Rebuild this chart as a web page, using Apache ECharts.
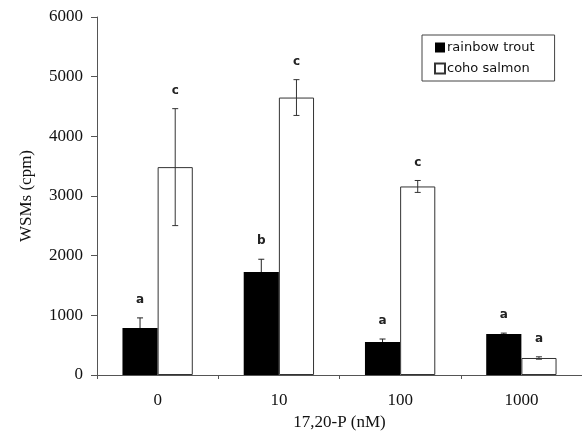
<!DOCTYPE html>
<html>
<head>
    <meta charset="UTF-8">
    <title>WSMs vs 17,20-P</title>
    <script src="https://cdn.jsdelivr.net/npm/echarts/dist/echarts.min.js"></script>
</head>
<body style="margin:0;background:#fff;">
    <div id="chart" style="width:582px;height:436px;"></div>
    <script type="text/javascript">
        var chart = echarts.init(document.getElementById('chart'));

        // data
        var doses = ['0', '10', '100', '1000'];
        var troutMeans = [787, 1725, 553, 687];
        var troutErr = [170, 215, 50, 15];
        var troutLetters = ['a', 'b', 'a', 'a'];
        var cohoMeans = [3484, 4650, 3160, 285];
        var cohoErr = [980, 300, 100, 20];
        var cohoLetters = ['c', 'c', 'c', 'a'];

        var serif = 'Liberation Serif';
        var sans = 'DejaVu Sans';
        var barFrac = 0.29;

        // rows: [index, mean, low, high, letter]
        function errRows(means, errs, letters, bothWays) {
            return means.map(function (m, i) {
                return [i, m, bothWays ? m - errs[i] : m, m + errs[i], letters[i]];
            });
        }

        function errorRenderer(side, color) {
            return function (params, api) {
                var idx = api.value(0);
                var band = api.size([1, 0])[0];
                var x = api.coord([idx, 0])[0] + side * band * barFrac / 2;
                var yLow = api.coord([idx, api.value(2)])[1];
                var yHigh = api.coord([idx, api.value(3)])[1];
                var style = { stroke: color, lineWidth: 1 };
                var kids = [
                    { type: 'line', shape: { x1: x, y1: yLow, x2: x, y2: yHigh }, style: style },
                    { type: 'line', shape: { x1: x - 3, y1: yHigh, x2: x + 3, y2: yHigh }, style: style },
                    {
                        type: 'text',
                        style: {
                            text: api.value(4), x: x, y: yHigh - 18,
                            align: 'center', verticalAlign: 'middle',
                            font: 'bold 12px "' + sans + '"', fill: '#222'
                        }
                    }
                ];
                if (api.value(2) !== api.value(1)) {
                    kids.push({ type: 'line', shape: { x1: x - 3, y1: yLow, x2: x + 3, y2: yLow }, style: style });
                }
                return { type: 'group', children: kids };
            };
        }

        var option = {
            backgroundColor: '#fff',
            animation: false,
            grid: { left: 97, top: 17, width: 485, height: 358 },
            legend: {
                data: ['rainbow trout', 'coho salmon'],
                orient: 'vertical',
                left: 422,
                top: 35,
                width: 129,
                padding: [6, 20, 6, 12],
                itemGap: 8,
                itemWidth: 10,
                itemHeight: 10,
                icon: 'rect',
                borderColor: '#444',
                borderWidth: 1,
                textStyle: { fontFamily: sans, fontSize: 13, color: '#111', padding: [0, 0, 0, -3] }
            },
            xAxis: {
                type: 'category',
                data: doses,
                name: '17,20-P (nM)',
                nameLocation: 'middle',
                nameGap: 38,
                nameTextStyle: { fontFamily: serif, fontSize: 17, color: '#111' },
                axisLine: { lineStyle: { color: '#555' } },
                axisTick: { show: true, length: 4, lineStyle: { color: '#555' } },
                axisLabel: { fontFamily: serif, fontSize: 17, color: '#111', margin: 17 },
                splitLine: { show: false }
            },
            yAxis: {
                type: 'value',
                min: 0,
                max: 6000,
                interval: 1000,
                name: 'WSMs (cpm)',
                nameLocation: 'middle',
                nameGap: 62,
                nameTextStyle: { fontFamily: serif, fontSize: 17, color: '#111' },
                axisLine: { show: true, lineStyle: { color: '#555' } },
                axisTick: { show: true, length: 6, lineStyle: { color: '#555' } },
                axisLabel: {
                    fontFamily: serif, fontSize: 17, color: '#111', margin: 14,
                    formatter: function (v) { return String(v); }
                },
                splitLine: { show: false }
            },
            series: [
                {
                    name: 'rainbow trout',
                    type: 'bar',
                    data: troutMeans,
                    barWidth: (barFrac * 100) + '%',
                    barGap: '0%',
                    itemStyle: { color: '#000' }
                },
                {
                    name: 'coho salmon',
                    type: 'bar',
                    data: cohoMeans,
                    barWidth: (barFrac * 100) + '%',
                    barGap: '0%',
                    itemStyle: { color: '#fff', borderColor: '#333', borderWidth: 1 }
                },
                {
                    name: 'troutErr',
                    type: 'custom',
                    data: errRows(troutMeans, troutErr, troutLetters, false),
                    encode: { x: 0, y: 3 },
                    renderItem: errorRenderer(-1, '#222'),
                    z: 5
                },
                {
                    name: 'cohoErr',
                    type: 'custom',
                    data: errRows(cohoMeans, cohoErr, cohoLetters, true),
                    encode: { x: 0, y: 3 },
                    renderItem: errorRenderer(1, '#333'),
                    z: 5
                }
            ]
        };

        chart.setOption(option);
    </script>
</body>
</html>
